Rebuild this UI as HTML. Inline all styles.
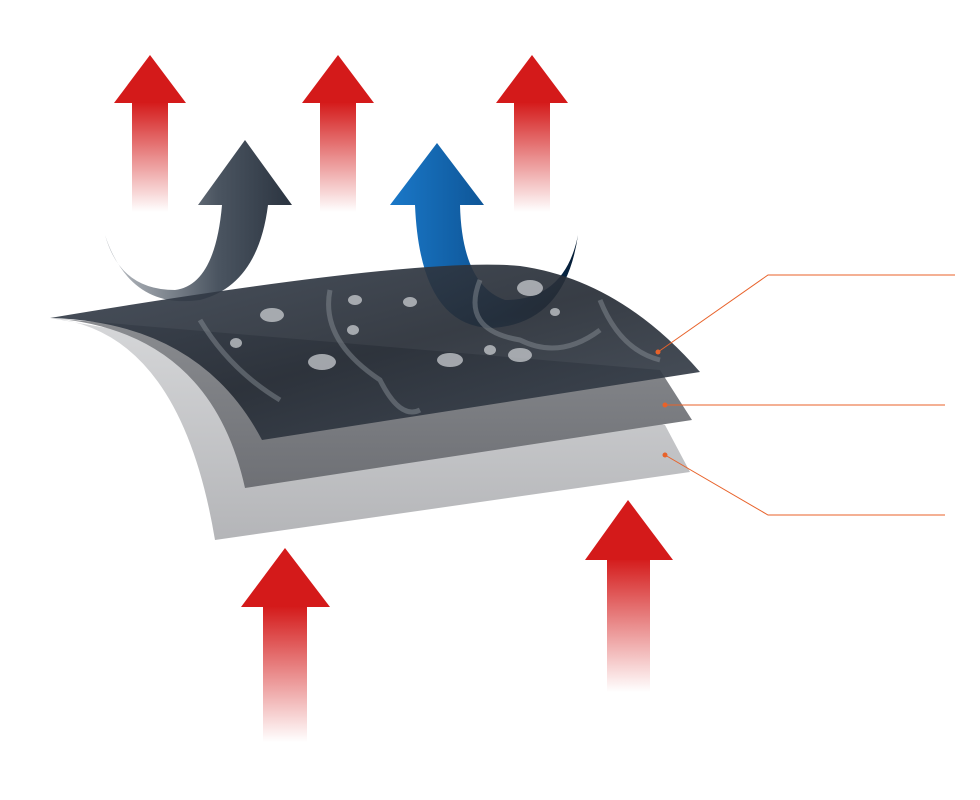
<!DOCTYPE html>
<html><head><meta charset="utf-8"><style>html,body{margin:0;padding:0;background:#fff}svg{display:block}</style></head>
<body>
<svg width="980" height="800" viewBox="0 0 980 800" xmlns="http://www.w3.org/2000/svg">
<defs>
<linearGradient id="rf" x1="0" y1="0" x2="0" y2="1">
<stop offset="0" stop-color="#d41a1a"/><stop offset="1" stop-color="#d41a1a" stop-opacity="0"/></linearGradient>
<linearGradient id="dk" x1="0" y1="0" x2="1" y2="0">
<stop offset="0" stop-color="#bfc3c8"/><stop offset="0.6" stop-color="#4b5561"/><stop offset="1" stop-color="#2b3440"/></linearGradient>
<linearGradient id="bl" x1="0" y1="0" x2="1" y2="0">
<stop offset="0" stop-color="#1a78c8"/><stop offset="0.6" stop-color="#0c4f8e"/><stop offset="1" stop-color="#051a30"/></linearGradient>
<linearGradient id="g1" x1="0" y1="0" x2="0" y2="1">
<stop offset="0" stop-color="#8a8c90"/><stop offset="1" stop-color="#6e7075"/></linearGradient>
<linearGradient id="g2" x1="0" y1="0" x2="0" y2="1">
<stop offset="0" stop-color="#d6d7d9"/><stop offset="1" stop-color="#b4b5b8"/></linearGradient>
<linearGradient id="top" x1="0" y1="0" x2="1" y2="1">
<stop offset="0" stop-color="#3a4350"/><stop offset="0.5" stop-color="#262c35"/><stop offset="1" stop-color="#3d4652"/></linearGradient>
</defs>
<g fill="url(#rf)">
<rect x="132" y="102" width="36" height="110"/><rect x="320" y="102" width="36" height="110"/><rect x="514" y="102" width="36" height="110"/>
</g>
<g fill="#d41a1a">
<polygon points="150,55 186,103 114,103"/><polygon points="338,55 374,103 302,103"/><polygon points="532,55 568,103 496,103"/>
</g>
<path d="M105,235 Q130,310 200,300 Q258,285 268,205 L292,205 L245,140 L198,205 L222,205 Q215,285 175,290 Q120,290 105,235 Z" fill="url(#dk)"/>
<path d="M578,235 Q565,325 490,328 Q420,325 415,205 L390,205 L437,143 L484,205 L460,205 Q462,285 505,300 Q565,300 578,235 Z" fill="url(#bl)"/>
<path d="M50,318 Q180,330 215,540 L690,472 L665,425 Z" fill="url(#g2)"/>
<path d="M50,318 Q210,330 245,488 L692,420 L660,370 Z" fill="url(#g1)"/>
<path d="M50,318 Q200,322 262,440 L700,372 Q620,280 520,266 Q420,256 50,318 Z" fill="url(#top)" opacity="0.92"/>
<g fill="none" stroke="#8d949c" stroke-width="5" opacity="0.45">
<path d="M200,320 Q230,370 280,400 M330,290 Q320,340 380,380 Q400,420 420,410 M480,280 Q460,330 520,340 Q560,360 600,330 M600,300 Q620,350 660,360"/>
</g>
<g fill="#c9ccd0" opacity="0.75">
<ellipse cx="272" cy="315" rx="12" ry="7"/><ellipse cx="322" cy="362" rx="14" ry="8"/><ellipse cx="450" cy="360" rx="13" ry="7"/><ellipse cx="520" cy="355" rx="12" ry="7"/><ellipse cx="530" cy="288" rx="13" ry="8"/><ellipse cx="355" cy="300" rx="7" ry="5"/><ellipse cx="410" cy="302" rx="7" ry="5"/><ellipse cx="490" cy="350" rx="6" ry="5"/><ellipse cx="236" cy="343" rx="6" ry="5"/><ellipse cx="353" cy="330" rx="6" ry="5"/><ellipse cx="555" cy="312" rx="5" ry="4"/>
</g>
<g stroke="#e8622a" stroke-width="1" fill="none">
<polyline points="658,352 768,275 955,275"/>
<polyline points="665,405 945,405"/>
<polyline points="665,455 768,515 945,515"/>
</g>
<g fill="#e8622a"><circle cx="658" cy="352" r="2.5"/><circle cx="665" cy="405" r="2.5"/><circle cx="665" cy="455" r="2.5"/></g>
<rect x="263" y="606" width="44" height="136" fill="url(#rf)"/>
<polygon points="285,548 330,607 241,607" fill="#d41a1a"/>
<rect x="607" y="558" width="43" height="134" fill="url(#rf)"/>
<polygon points="628,500 673,560 585,560" fill="#d41a1a"/>
</svg>
</body></html>
